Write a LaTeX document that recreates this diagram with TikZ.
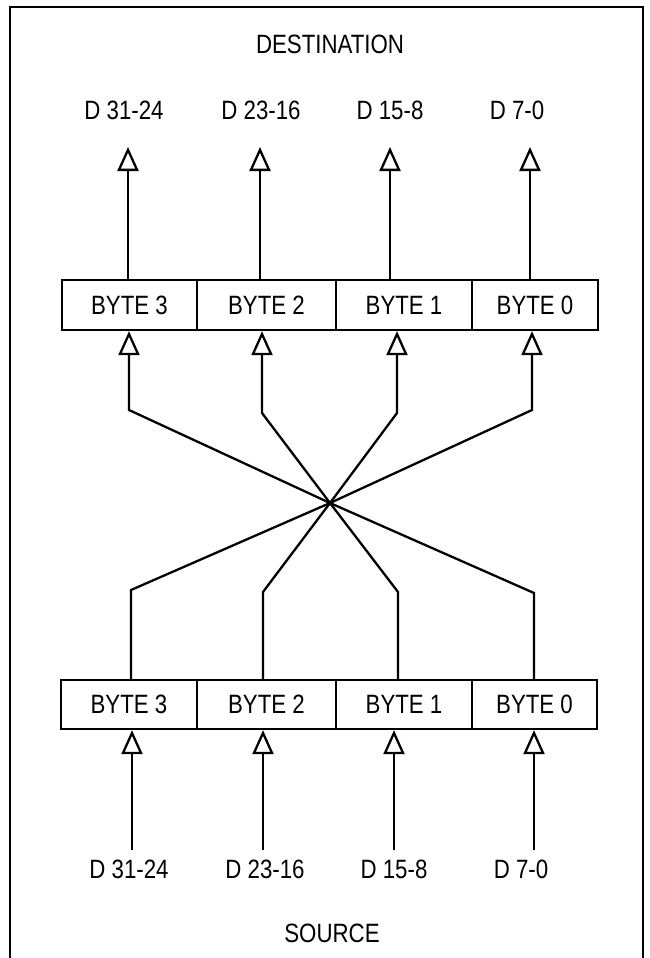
\documentclass[tikz,border=0pt]{standalone}
\usepackage{fontspec}
\setmainfont{Liberation Sans}[FakeStretch=0.84]
\usetikzlibrary{arrows.meta}
\begin{document}
\begin{tikzpicture}[x=1pt,y=-1pt,
  line width=2.3pt,
  bytebox/.style={draw, rectangle, line width=2.3pt, minimum height=50pt, inner sep=0pt, font=\fontsize{26.5}{30}\selectfont},
  lbl/.style={font=\fontsize{26.5}{30}\selectfont, inner sep=0pt},
  openarr/.style={-{Triangle[open, length=24pt, width=21pt]}},
  wire/.style={line width=2.3pt}
]
\useasboundingbox (0,0) rectangle (650,958);
% frame
\draw[line width=2.6pt] (10,975) -- (10,7) -- (643,7) -- (643,975);

% titles
\node[lbl] (dest) at (330,44) {DESTINATION};
\node[lbl] (src) at (332,933) {SOURCE};

% top labels
\node[lbl] (t3) at (124,110) {D 31-24};
\node[lbl] (t2) at (261,110) {D 23-16};
\node[lbl] (t1) at (390,110) {D 15-8};
\node[lbl] (t0) at (517,110) {D 7-0};

% bottom labels
\node[lbl] (s3) at (129,869) {D 31-24};
\node[lbl] (s2) at (265,869) {D 23-16};
\node[lbl] (s1) at (394,869) {D 15-8};
\node[lbl] (s0) at (521,869) {D 7-0};

% destination boxes
\node[bytebox, minimum width=135pt] (d3) at (129.5,305) {BYTE 3};
\node[bytebox, minimum width=139pt] (d2) at (266.5,305) {BYTE 2};
\node[bytebox, minimum width=136pt] (d1) at (404,305) {BYTE 1};
\node[bytebox, minimum width=126pt] (d0) at (535,305) {BYTE 0};

% source boxes
\node[bytebox, minimum width=136pt, minimum height=49pt] (u3) at (129,704.5) {BYTE 3};
\node[bytebox, minimum width=139pt, minimum height=49pt] (u2) at (266.5,704.5) {BYTE 2};
\node[bytebox, minimum width=136pt, minimum height=49pt] (u1) at (404,704.5) {BYTE 1};
\node[bytebox, minimum width=125pt, minimum height=49pt] (u0) at (534.5,704.5) {BYTE 0};

% top output arrows
\coordinate (a3) at (128,147);
\coordinate (a2) at (260,147);
\coordinate (a1) at (390,147);
\coordinate (a0) at (530,147);
\draw[wire, openarr] (d3.north -| a3) -- (a3);
\draw[wire, openarr] (d2.north -| a2) -- (a2);
\draw[wire, openarr] (d1.north -| a1) -- (a1);
\draw[wire, openarr] (d0.north -| a0) -- (a0);

% crossing
\coordinate (C) at (330,503);
\coordinate (lb3) at (131,590);
\coordinate (lb2) at (263,592);
\coordinate (lb1) at (398,592);
\coordinate (lb0) at (534,593);
\coordinate (ub3) at (129,410);
\coordinate (ub2) at (262,413);
\coordinate (ub1) at (397,413);
\coordinate (ub0) at (532,410);
\draw[wire, openarr] (u3.north -| lb3) -- (lb3) -- (C) -- (ub0) -- (d0.south -| ub0);
\draw[wire, openarr] (u2.north -| lb2) -- (lb2) -- (C) -- (ub1) -- (d1.south -| ub1);
\draw[wire, openarr] (u1.north -| lb1) -- (lb1) -- (C) -- (ub2) -- (d2.south -| ub2);
\draw[wire, openarr] (u0.north -| lb0) -- (lb0) -- (C) -- (ub3) -- (d3.south -| ub3);

% source input arrows
\coordinate (e3) at (132,850);
\coordinate (e2) at (263,850);
\coordinate (e1) at (394,850);
\coordinate (e0) at (534,850);
\draw[wire, openarr] (e3) -- (u3.south -| e3);
\draw[wire, openarr] (e2) -- (u2.south -| e2);
\draw[wire, openarr] (e1) -- (u1.south -| e1);
\draw[wire, openarr] (e0) -- (u0.south -| e0);
\end{tikzpicture}
\end{document}
